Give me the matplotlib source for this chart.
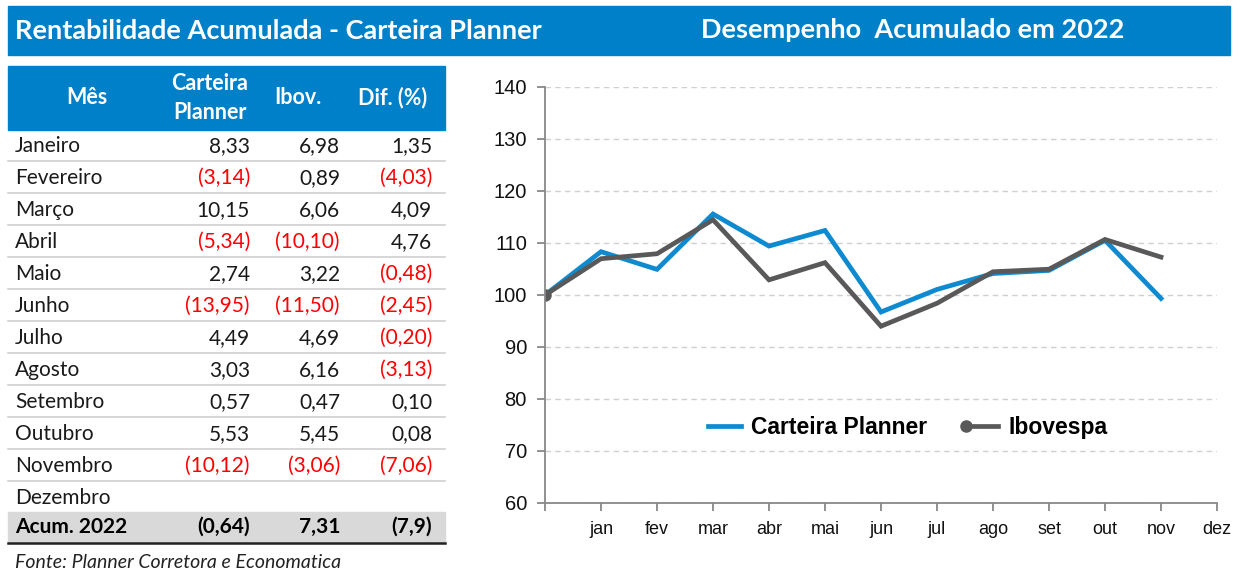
import numpy as np
import matplotlib.pyplot as plt
from matplotlib.patches import Rectangle
from matplotlib.legend_handler import HandlerLine2D

# table data
meses = ['Janeiro', 'Fevereiro', 'Março', 'Abril', 'Maio', 'Junho', 'Julho',
         'Agosto', 'Setembro', 'Outubro', 'Novembro', 'Dezembro']
carteira_mes = [8.33, -3.14, 10.15, -5.34, 2.74, -13.95, 4.49, 3.03, 0.57, 5.53, -10.12, None]
ibov_mes = [6.98, 0.89, 6.06, -10.10, 3.22, -11.50, 4.69, 6.16, 0.47, 5.45, -3.06, None]
dif_mes = [1.35, -4.03, 4.09, 4.76, -0.48, -2.45, -0.20, -3.13, 0.10, 0.08, -7.06, None]
acum_labels = ['Acum. 2022', '(0,64)', '7,31', '(7,9)']

# chart data (index 100 at start)
months = ['', 'jan', 'fev', 'mar', 'abr', 'mai', 'jun', 'jul', 'ago', 'set', 'out', 'nov', 'dez']
carteira_idx = [100, 108.33, 104.93, 115.58, 109.41, 112.41, 96.73, 101.07, 104.13, 104.73, 110.52, 99.34]
ibov_idx = [100, 106.98, 107.93, 114.47, 102.91, 106.22, 94.00, 98.41, 104.47, 104.96, 110.68, 107.29]

BLUE = '#0080C8'
RED = '#FF0000'
W, H = 1242, 584


def fmt(v):
    if v is None:
        return ''
    s = f'{abs(v):.2f}'.replace('.', ',')
    return f'({s})' if v < 0 else s


class LeftMarker(HandlerLine2D):
    # legend marker only on the left end of the line, like excel
    def create_artists(self, *args, **kwargs):
        arts = super().create_artists(*args, **kwargs)
        for a in arts:
            a.set_markevery([0])
        return arts


fig = plt.figure(figsize=(W / 100, H / 100), dpi=100)

# overlay axes in pixel coordinates for the table and title bars
ov = fig.add_axes([0, 0, 1, 1])
ov.set_xlim(0, W)
ov.set_ylim(H, 0)
ov.axis('off')

ov.add_patch(Rectangle((8, 6), 1222, 49, color=BLUE, zorder=0))
tfont = dict(family='Lato', weight='bold', color='white', fontsize=19.5)
ov.text(15, 31, 'Rentabilidade Acumulada - Carteira Planner', ha='left', va='center', **tfont)
ov.text(913, 30, 'Desempenho  Acumulado em 2022', ha='center', va='center', **tfont)

# header
ov.add_patch(Rectangle((8, 66), 437, 64, color=BLUE, zorder=0))
hfont = dict(family='Lato', weight='bold', color='white', fontsize=15.5)
ov.text(87, 98, 'Mês', ha='center', va='center', **hfont)
ov.text(210, 98, 'Carteira\nPlanner', ha='center', va='center', linespacing=1.5, **hfont)
ov.text(298, 98, 'Ibov.', ha='center', va='center', **hfont)
ov.text(393, 98, 'Dif. (%)', ha='center', va='center', **hfont)

col_right = [250, 340, 432]
row0, step = 146, 32
bfont = dict(family='Lato', fontsize=15)
for i, m in enumerate(meses):
    y = row0 + step * i
    ov.text(15, y, m, ha='left', va='center', color='#1a1a1a', **bfont)
    for x, v in zip(col_right, [carteira_mes[i], ibov_mes[i], dif_mes[i]]):
        c = RED if (v is not None and v < 0) else '#1a1a1a'
        ov.text(x, y, fmt(v), ha='right', va='center', color=c, **bfont)
    if i < len(meses) - 1:
        ov.plot([8, 445], [y + 15, y + 15], color='#D0D0D0', lw=1.2)

ya = row0 + step * len(meses) - 3
ov.add_patch(Rectangle((8, ya - 15), 437, 31, color='#D9D9D9', zorder=0))
ov.plot([8, 445], [ya + 16, ya + 16], color='#222222', lw=1.8)
ov.text(15, ya, acum_labels[0], ha='left', va='center', weight='bold', color='black', **bfont)
for x, s in zip(col_right, acum_labels[1:]):
    ov.text(x, ya, s, ha='right', va='center', weight='bold', color='black', **bfont)

ov.text(15, 562, 'Fonte: Planner Corretora e Economatica', ha='left', va='center',
        family='Lato', style='italic', fontsize=14, color='#222222')

# line chart
ax = fig.add_axes([545 / W, (H - 503) / H, (1217 - 545) / W, (503 - 87) / H])
x = np.arange(len(months))
ax.plot(x[:len(carteira_idx)], carteira_idx, color='#0D8AD0', lw=3.4, label='Carteira Planner',
        solid_joinstyle='miter')
ax.plot(x[:len(ibov_idx)], ibov_idx, color='#595959', lw=3.4, label='Ibovespa',
        marker='o', markersize=8, markevery=[0], solid_joinstyle='miter')
ax.set_xlim(0, len(months) - 1)
ax.set_ylim(60, 140)
ax.set_yticks(np.arange(60, 141, 10))
ax.set_xticks(x)
ax.set_xticklabels(months)
ax.grid(axis='y', color='#D0D0D0', linestyle=(0, (4, 3)), lw=1)
for s in ['top', 'right']:
    ax.spines[s].set_visible(False)
for s in ['left', 'bottom']:
    ax.spines[s].set_color('#888888')
    ax.spines[s].set_linewidth(1.3)
ax.tick_params(axis='both', colors='#888888', length=6, width=1.3)
for lab in ax.get_yticklabels() + ax.get_xticklabels():
    lab.set_family('Liberation Sans')
    lab.set_color('#111111')
for lab in ax.get_yticklabels():
    lab.set_fontsize(14.5)
for lab in ax.get_xticklabels():
    lab.set_fontsize(13)
ax.tick_params(axis='y', pad=7)
ax.tick_params(axis='x', pad=7)

leg = ax.legend(loc='center', bbox_to_anchor=(0.535, 0.182), ncol=2, frameon=False,
                numpoints=2, handlelength=2.0, handletextpad=0.15, columnspacing=1.4,
                handler_map={ax.lines[1]: LeftMarker()},
                prop=dict(family='Liberation Sans', weight='bold', size=16.5))

fig.savefig('out.png', dpi=100)
